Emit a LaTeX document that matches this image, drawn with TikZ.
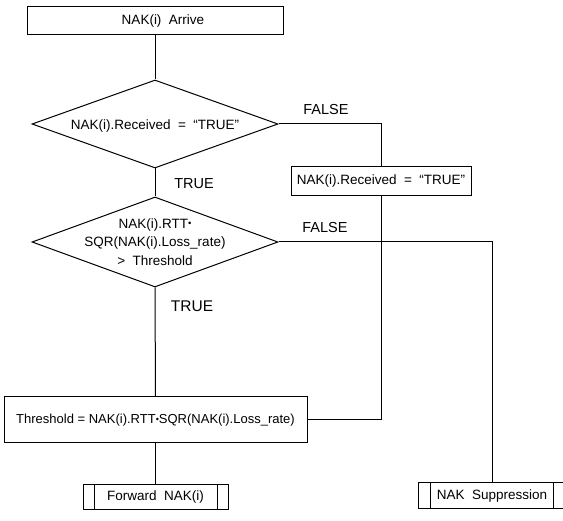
\documentclass[tikz,border=0pt]{standalone}
\usepackage{fontspec}
\setmainfont{Liberation Sans}
\usetikzlibrary{shapes.geometric}
\begin{document}
\begin{tikzpicture}[x=1pt,y=-1pt,
  every node/.style={font=\fontsize{13.5}{18.5}\selectfont},
  line/.style={line width=1pt},
  boxnode/.style={draw,line width=1pt,rectangle,inner sep=0pt},
  procnode/.style={draw,line width=1pt,rectangle,inner sep=0pt},
  decnode/.style={draw,line width=1pt,diamond,inner sep=0pt},
  lbl/.style={inner sep=0pt,font=\fontsize{14.5}{16}\selectfont},
  biglbl/.style={inner sep=0pt,font=\fontsize{15.5}{17}\selectfont}]
\clip (0,0) rectangle (563,521);
\fill[white] (0,0) rectangle (563,521);
% boxes
\node[boxnode,minimum width=256pt,minimum height=28pt] (top) at (155,21) {\hspace*{16pt}NAK(i)\ \ Arrive};
\node[decnode,minimum width=246pt,minimum height=88pt] (d1) at (155,124) {};
\node[inner sep=0pt] (d1t) at (155,126) {NAK(i).Received\ \ =\ \ “TRUE”};
\node[boxnode,minimum width=180pt,minimum height=29pt] (rec) at (381,181.5) {NAK(i).Received\ \ =\ \ “TRUE”};
\node[decnode,minimum width=246pt,minimum height=90pt] (d2) at (155,242) {};
\node[inner sep=0pt,align=center] (d2t) at (155,242) {NAK(i).RTT\raisebox{1.5pt}{\scalebox{0.7}{•}}\\SQR(NAK(i).Loss\_rate)\\>\ \ Threshold};
\node[boxnode,minimum width=303pt,minimum height=46pt,font=\fontsize{13}{16}\selectfont] (th) at (155.5,420) {Threshold = NAK(i).RTT\raisebox{1pt}{\scalebox{0.7}{•}}SQR(NAK(i).Loss\_rate)};
\node[procnode,minimum width=145pt,minimum height=25pt] (fwd) at (155.5,497.5) {Forward\ \ NAK(i)};
\draw[line] ([xshift=12pt]fwd.north west) -- ([xshift=12pt]fwd.south west);
\draw[line] ([xshift=-11pt]fwd.north east) -- ([xshift=-11pt]fwd.south east);
\node[procnode,minimum width=148pt,minimum height=26pt] (sup) at (492,496) {NAK\ \ Suppression};
\draw[line] ([xshift=13pt]sup.north west) -- ([xshift=13pt]sup.south west);
\draw[line] ([xshift=-13pt]sup.north east) -- ([xshift=-13pt]sup.south east);
% labels
\node[lbl] (f1) at (326,110) {FALSE};
\node[lbl] (t1) at (194,184) {TRUE};
\node[lbl] (f2) at (325,228) {FALSE};
\node[biglbl] (t2) at (192,306) {TRUE};
% connectors
\draw[line] (top.south) -- (d1.north);
\draw[line] (d1.east) -| (rec.north);
\draw[line] (rec.south) |- (th.east);
\draw[line] (d1.south) -- (d2.north);
\draw[line] (d2.east) -| (sup.north);
\draw[line] (d2.south) -- (th.north);
\draw[line] (th.south) -- (fwd.north);
\end{tikzpicture}
\end{document}
